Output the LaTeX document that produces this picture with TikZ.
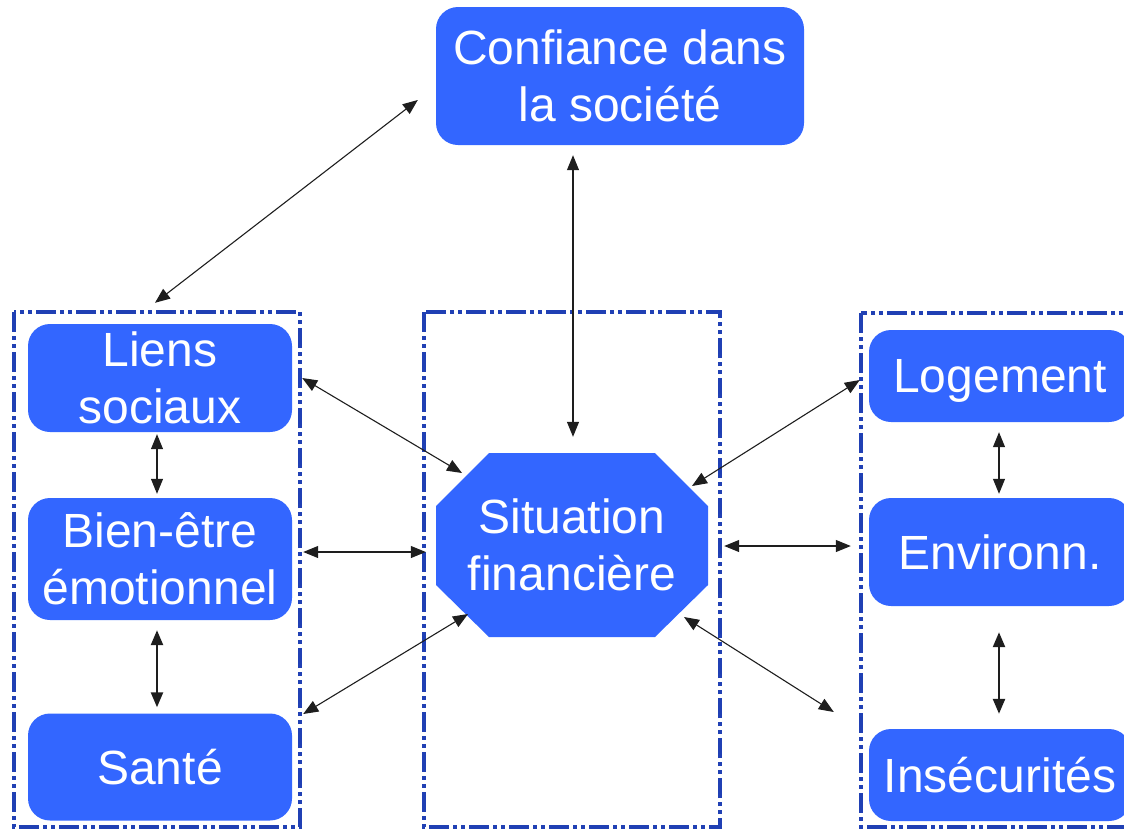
\documentclass[tikz,border=0pt]{standalone}
\usepackage{fontspec}
\setmainfont{Liberation Sans}
\usetikzlibrary{calc,arrows.meta}
\definecolor{boxblue}{RGB}{51,102,255}
\definecolor{framecol}{RGB}{32,64,180}
\definecolor{linecol}{RGB}{30,30,30}
\begin{document}
\begin{tikzpicture}[x=1pt,y=-1pt,
  box/.style={fill=boxblue,text=white,rounded corners=22pt,inner sep=0pt,align=center,
    font=\fontsize{48}{57}\selectfont},
  frame/.style={draw=framecol,line width=4.5pt,dash pattern=on 20pt off 4pt on 4pt off 4pt on 4pt off 4pt},
  link/.style={draw=linecol,line width=1.1pt,{Triangle[length=15pt,width=12pt]}-{Triangle[length=15pt,width=12pt]}},
  thicklink/.style={link,line width=2.4pt}]
\useasboundingbox (0,0) rectangle (1124,831);
% frames
\draw[frame] (14,312) rectangle (300,827);
\draw[frame] (424,312) rectangle (720,827);
\draw[frame] (861,313) rectangle (1150,827);
% nodes
\node[box,minimum width=368pt,minimum height=138pt] (conf) at (620,76) {Confiance dans\\la société};
\node[box,minimum width=264pt,minimum height=108pt] (liens) at (160,378) {Liens\\sociaux};
\node[box,minimum width=264pt,minimum height=122pt] (bien) at (160,559) {Bien-être\\émotionnel};
\node[box,minimum width=264pt,minimum height=107pt] (sante) at (160,767) {Santé};
\node[box,minimum width=262pt,minimum height=92pt,text depth=0pt] (loge) at (1000,376) {Logement};
\node[box,minimum width=262pt,minimum height=108pt] (env) at (1000,552) {Environn.};
\node[box,minimum width=262pt,minimum height=92pt] (insec) at (1000,775) {Insécurités};
% octagon
\fill[boxblue] (489,453) -- (655,453) -- (708,506) -- (708,585) -- (655,637) -- (489,637) -- (436,585) -- (436,506) -- cycle;
\node[inner sep=0pt,minimum width=272pt,minimum height=184pt,text=white,align=center,
  font=\fontsize{48}{57}\selectfont] (sit) at (572,545) {Situation\\financière};
% connectors
\draw[link] ($(conf.west)+(-18,24)$) -- ($(liens.north)+(-5,-21)$);
\draw[link] ($(conf.south)+(-47,10)$) -- ($(sit.north)+(1,-16)$);
\draw[link] ($(liens.east)+(10,0)$) -- ($(sit.center)+(-110,-72)$);
\draw[link] ($(bien.east)+(11,-7)$) -- ($(sit.west)+(-10,7)$);
\draw[link] ($(sante.east)+(11,-53)$) -- ($(sit.center)+(-104,69)$);
\draw[link] ($(loge.west)+(-9,4)$) -- ($(sit.center)+(120,-59)$);
\draw[link] ($(sit.east)+(16,1)$) -- ($(env.west)+(-18,-6)$);
\draw[link] ($(insec.west)+(-35,-63)$) -- ($(sit.center)+(112,72)$);
\draw[link] ($(liens.south)+(-3,2)$) -- ($(bien.north)+(-3,-4)$);
\draw[thicklink] ($(bien.south)+(-3,10)$) -- ($(sante.north)+(-3,-6)$);
\draw[link] ($(loge.south)+(-1,10)$) -- ($(env.north)+(-1,-4)$);
\draw[thicklink] ($(env.south)+(-1,26)$) -- ($(insec.north)+(-1,-15)$);
\end{tikzpicture}
\end{document}
